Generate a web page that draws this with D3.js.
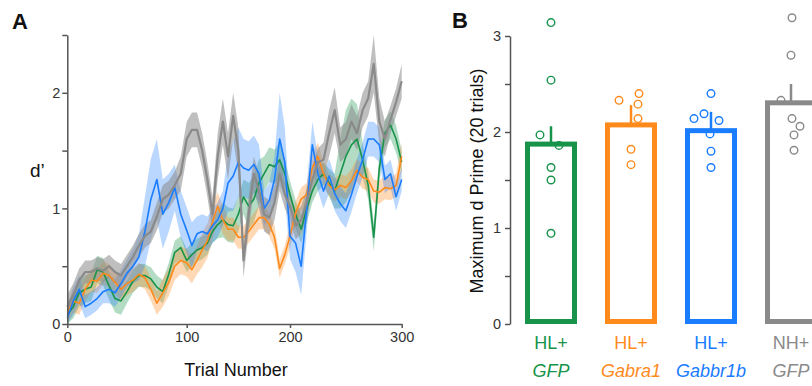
<!DOCTYPE html>
<html>
<head>
<meta charset="utf-8">
<script src="https://cdn.jsdelivr.net/npm/d3@7"></script>
<style>
  body { margin: 0; background: #fff; }
  svg { display: block; font-family: "Liberation Sans", Arial, sans-serif; }
</style>
</head>
<body>
<div id="chart"></div>
<script>
// ---- data: panel A (d' vs trial, sampled every 5 trials) ----
const trialNums = d3.range(0, 301, 5);

const greenMean = [0.08,0.15,0.27,0.3,0.32,0.47,0.45,0.33,0.22,0.2,
  0.28,0.37,0.42,0.42,0.39,0.32,0.28,0.43,0.62,0.66,
  0.55,0.6,0.64,0.66,0.7,0.8,0.86,0.9,0.86,0.85,
  0.95,1.1,1.02,1.08,1.22,1.3,1.38,1.36,1.42,1.3,
  1.12,0.95,0.82,1.0,1.15,1.25,1.3,1.22,1.15,1.3,
  1.45,1.55,1.6,1.42,1.2,0.75,1.35,1.65,1.72,1.6,
  1.4];
const greenSem = [.1,.1,.12,.12,.12,.12,.12,.12,.12,.12,
  .1,.1,.1,.1,.1,.1,.1,.1,.1,.1,
  .1,.1,.1,.1,.1,.1,.12,.15,.15,.15,
  .15,.15,.2,.2,.2,.15,.15,.15,.15,.12,
  .12,.12,.12,.12,.1,.1,.1,.12,.15,.3,
  .4,.4,.3,.15,.12,.12,.12,.12,.12,.12,
  .1];

const orangeMean = [0.1,0.2,0.18,0.3,0.38,0.37,0.44,0.42,0.36,0.3,
  0.35,0.38,0.43,0.4,0.3,0.18,0.27,0.36,0.5,0.55,
  0.53,0.47,0.55,0.64,0.72,0.88,1.02,0.9,0.82,0.82,
  0.75,0.75,0.8,0.86,0.92,0.92,0.86,0.75,0.48,0.6,
  0.76,0.96,1.08,1.12,1.35,1.45,1.3,1.2,1.16,1.2,
  1.18,1.24,1.33,1.27,1.25,1.15,1.14,1.18,1.17,1.2,
  1.45];
const orangeSem = [.08,.1,.1,.1,.1,.1,.1,.1,.1,.1,
  .1,.1,.1,.1,.1,.1,.12,.12,.12,.12,
  .12,.12,.12,.15,.15,.15,.12,.12,.1,.1,
  .1,.1,.1,.1,.1,.1,.1,.1,.08,.08,
  .1,.1,.1,.1,.12,.12,.1,.1,.1,.1,
  .1,.1,.1,.1,.1,.1,.1,.1,.1,.1,
  .12];

const blueMean = [0.05,0.2,0.3,0.15,0.18,0.22,0.28,0.3,0.27,0.35,
  0.44,0.5,0.58,0.8,1.08,1.25,0.95,1.05,1.18,0.95,
  0.81,0.68,0.78,0.8,0.78,0.85,0.9,1.0,1.22,1.28,
  1.4,1.35,1.33,1.38,1.3,1.0,1.07,1.25,1.6,1.4,
  0.76,0.7,0.5,1.0,1.55,1.3,1.15,1.28,1.13,1.04,
  0.98,1.12,1.28,1.42,1.6,1.6,1.55,1.25,1.3,1.1,
  1.25];
const blueSem = [.1,.12,.12,.1,.1,.1,.1,.12,.12,.12,
  .12,.15,.2,.3,.35,.35,.3,.25,.2,.2,
  .2,.2,.15,.15,.15,.15,.15,.15,.25,.3,
  .3,.25,.25,.25,.25,.15,.15,.2,.4,.3,
  .2,.25,.25,.2,.2,.15,.15,.15,.15,.15,
  .15,.15,.15,.15,.15,.15,.15,.12,.12,.12,
  .1];

const grayMean = [0.15,0.25,0.38,0.45,0.45,0.48,0.46,0.5,0.45,0.42,
  0.5,0.58,0.68,0.76,0.8,0.93,1.08,1.12,1.2,1.3,
  1.6,1.68,1.68,1.5,1.25,0.95,1.45,1.75,1.45,1.8,
  1.5,0.55,0.95,1.3,1.15,0.95,0.92,1.05,1.3,1.12,
  1.02,0.85,0.9,1.05,1.25,1.4,1.42,1.65,1.85,1.55,
  1.6,1.75,1.65,1.85,1.95,2.25,1.75,1.6,1.77,1.92,
  2.1];
const graySem = [.1,.1,.1,.1,.1,.1,.1,.1,.1,.1,
  .1,.1,.1,.1,.1,.12,.12,.12,.12,.15,
  .15,.15,.15,.15,.15,.15,.2,.2,.2,.2,
  .2,.15,.15,.15,.15,.15,.15,.15,.15,.12,
  .12,.12,.12,.12,.12,.12,.15,.2,.2,.15,
  .15,.15,.15,.15,.15,.25,.2,.15,.12,.12,
  .15];

const xTicksA = [0, 100, 200, 300];
const yTicksA = [0, 0.5, 1, 1.5, 2, 2.5];

// ---- data: panel B (max d' over 20 trials) ----
const groups = ['HL+ GFP', 'HL+ Gabra1', 'HL+ Gabbr1b', 'NH+ GFP'];
const groupTop = ['HL+', 'HL+', 'HL+', 'NH+'];
const groupGene = ['GFP', 'Gabra1', 'Gabbr1b', 'GFP'];
const barMeans = [1.90, 2.10, 2.04, 2.33];
const barErrTop = [2.06, 2.28, 2.21, 2.50];
const pointsGFP = [3.14, 2.54, 1.97, 1.86, 1.63, 1.50, 0.945];
const pointsGabra1 = [2.33, 2.40, 2.29, 2.14, 1.82, 1.66];
const pointsGabbr1b = [2.40, 2.14, 2.19, 2.12, 1.98, 1.80, 1.63];
const pointsNH = [3.19, 2.80, 2.33, 2.14, 2.06, 1.97, 1.81];
const yTicksB = [0, 0.5, 1, 1.5, 2, 2.5, 3];

// layout-only: horizontal jitter of dots (px)
const jitter = [
  [0, 0, -11, 8, 0, 0, 0],
  [-12, 8, 7, 7, 0, 0],
  [0, -17, -7, 8, -1, 0, 0],
  [1, 0, -10, 1, 9, 3, 3]
];

const colors = ['#17934a', '#ff8a1c', '#1a7cff', '#8a8a8a'];
const axisColor = '#555';
const textColor = '#333';

const W = 812, H = 386;
const svg = d3.select('#chart').append('svg')
  .attr('width', W).attr('height', H)
  .attr('viewBox', [0, 0, W, H]);

// ================= Panel A =================
const xA = d3.scaleLinear().domain([0, 100, 200, 300]).range([67.3, 186.7, 290, 401.7]);
const yA = d3.scaleLinear().domain([0, 2.5]).range([324, 35]);

const seriesA = [
  { mean: greenMean, sem: greenSem, color: colors[0], w: 1.6, op: 0.32 },
  { mean: orangeMean, sem: orangeSem, color: colors[1], w: 1.6, op: 0.32 },
  { mean: blueMean, sem: blueSem, color: colors[2], w: 1.6, op: 0.3 },
  { mean: grayMean, sem: graySem, color: colors[3], w: 2.2, op: 0.55 }
];

const area = d3.area()
  .x(d => xA(d.t)).y0(d => yA(Math.max(0, d.m - d.s))).y1(d => yA(d.m + d.s));
const line = d3.line().x(d => xA(d.t)).y(d => yA(d.m));

const gA = svg.append('g');
seriesA.forEach(s => {
  const pts = trialNums.map((t, i) => ({ t: t, m: s.mean[i], s: s.sem[i] }));
  s.pts = pts;
  gA.append('path').datum(pts)
    .attr('d', area)
    .attr('fill', s.color)
    .attr('fill-opacity', s.op)
    .attr('stroke', 'none');
});
seriesA.forEach(s => {
  gA.append('path').datum(s.pts)
    .attr('d', line)
    .attr('fill', 'none')
    .attr('stroke', s.color)
    .attr('stroke-width', s.w)
    .attr('stroke-linejoin', 'round');
});

// axes A
const axA_y = svg.append('g').attr('transform', 'translate(67.3,0)')
  .call(d3.axisLeft(yA).tickValues(yTicksA).tickSize(5).tickSizeOuter(0)
    .tickFormat(d => Number.isInteger(d) ? d : ''));
const axA_x = svg.append('g').attr('transform', 'translate(0,324)')
  .call(d3.axisBottom(xA).tickValues(xTicksA).tickSize(4).tickSizeOuter(0));

[axA_y, axA_x].forEach(ax => {
  ax.select('.domain').attr('stroke', axisColor).attr('stroke-width', 1.5);
  ax.selectAll('.tick line').attr('stroke', axisColor).attr('stroke-width', 1.5);
  ax.selectAll('.tick text').attr('fill', textColor)
    .attr('font-size', 14.5).attr('font-family', '"Liberation Sans", Arial, sans-serif');
});
axA_y.selectAll('.tick text').attr('x', -7);
axA_x.selectAll('.tick text').attr('y', 8);

svg.append('text').text('A')
  .attr('x', 12).attr('y', 29)
  .attr('font-size', 22).attr('font-weight', 'bold').attr('fill', '#111');
svg.append('text').text('d\u2019')
  .attr('x', 30).attr('y', 177)
  .attr('font-size', 19).attr('fill', '#111');
svg.append('text').text('Trial Number')
  .attr('x', 236).attr('y', 376)
  .attr('text-anchor', 'middle')
  .attr('font-size', 18).attr('fill', '#111');

// ================= Panel B =================
const xB = d3.scalePoint().domain(groups).range([551, 791]);
const yB = d3.scaleLinear().domain([0, 3]).range([324, 36]);
const barW = 52, sw = 5;
const allPoints = [pointsGFP, pointsGabra1, pointsGabbr1b, pointsNH];

const gB = svg.append('g');
groups.forEach((g, i) => {
  const cx = xB(g);
  // error bar
  gB.append('line')
    .attr('x1', cx).attr('x2', cx)
    .attr('y1', yB(barMeans[i]) + sw / 2).attr('y2', yB(barErrTop[i]))
    .attr('stroke', colors[i]).attr('stroke-width', 2.5);
  // bar (stroke kept inside value)
  gB.append('rect')
    .attr('x', cx - barW / 2 + sw / 2)
    .attr('y', yB(barMeans[i]) + sw / 2)
    .attr('width', barW - sw)
    .attr('height', yB(0) - yB(barMeans[i]) - sw)
    .attr('fill', 'none')
    .attr('stroke', colors[i]).attr('stroke-width', sw);
  // dots
  gB.selectAll(null).data(allPoints[i]).join('circle')
    .attr('cx', (d, j) => cx + jitter[i][j])
    .attr('cy', d => yB(d))
    .attr('r', 3.8)
    .attr('fill', 'none')
    .attr('stroke', colors[i]).attr('stroke-width', 1.4);
  // labels
  gB.append('text').text(groupTop[i])
    .attr('x', cx).attr('y', 349)
    .attr('text-anchor', 'middle').attr('font-size', 18).attr('fill', colors[i]);
  gB.append('text').text(groupGene[i])
    .attr('x', cx).attr('y', 377)
    .attr('text-anchor', 'middle').attr('font-size', 18)
    .attr('font-style', 'italic').attr('fill', colors[i]);
});

const axB_y = svg.append('g').attr('transform', 'translate(510,0)')
  .call(d3.axisLeft(yB).tickValues(yTicksB).tickSize(5).tickSizeOuter(0)
    .tickFormat(d => Number.isInteger(d) ? d : ''));
axB_y.select('.domain').attr('stroke', axisColor).attr('stroke-width', 1.5);
axB_y.selectAll('.tick line').attr('stroke', axisColor).attr('stroke-width', 1.5);
axB_y.selectAll('.tick text').attr('fill', textColor).attr('x', -9)
  .attr('font-size', 14.5).attr('font-family', '"Liberation Sans", Arial, sans-serif');

svg.append('text').text('B')
  .attr('x', 452).attr('y', 28)
  .attr('font-size', 22).attr('font-weight', 'bold').attr('fill', '#111');
svg.append('text').text('Maximum d Prime (20 trials)')
  .attr('transform', 'translate(483,181) rotate(-90)')
  .attr('text-anchor', 'middle')
  .attr('font-size', 18).attr('fill', '#111');
</script>
</body>
</html>
